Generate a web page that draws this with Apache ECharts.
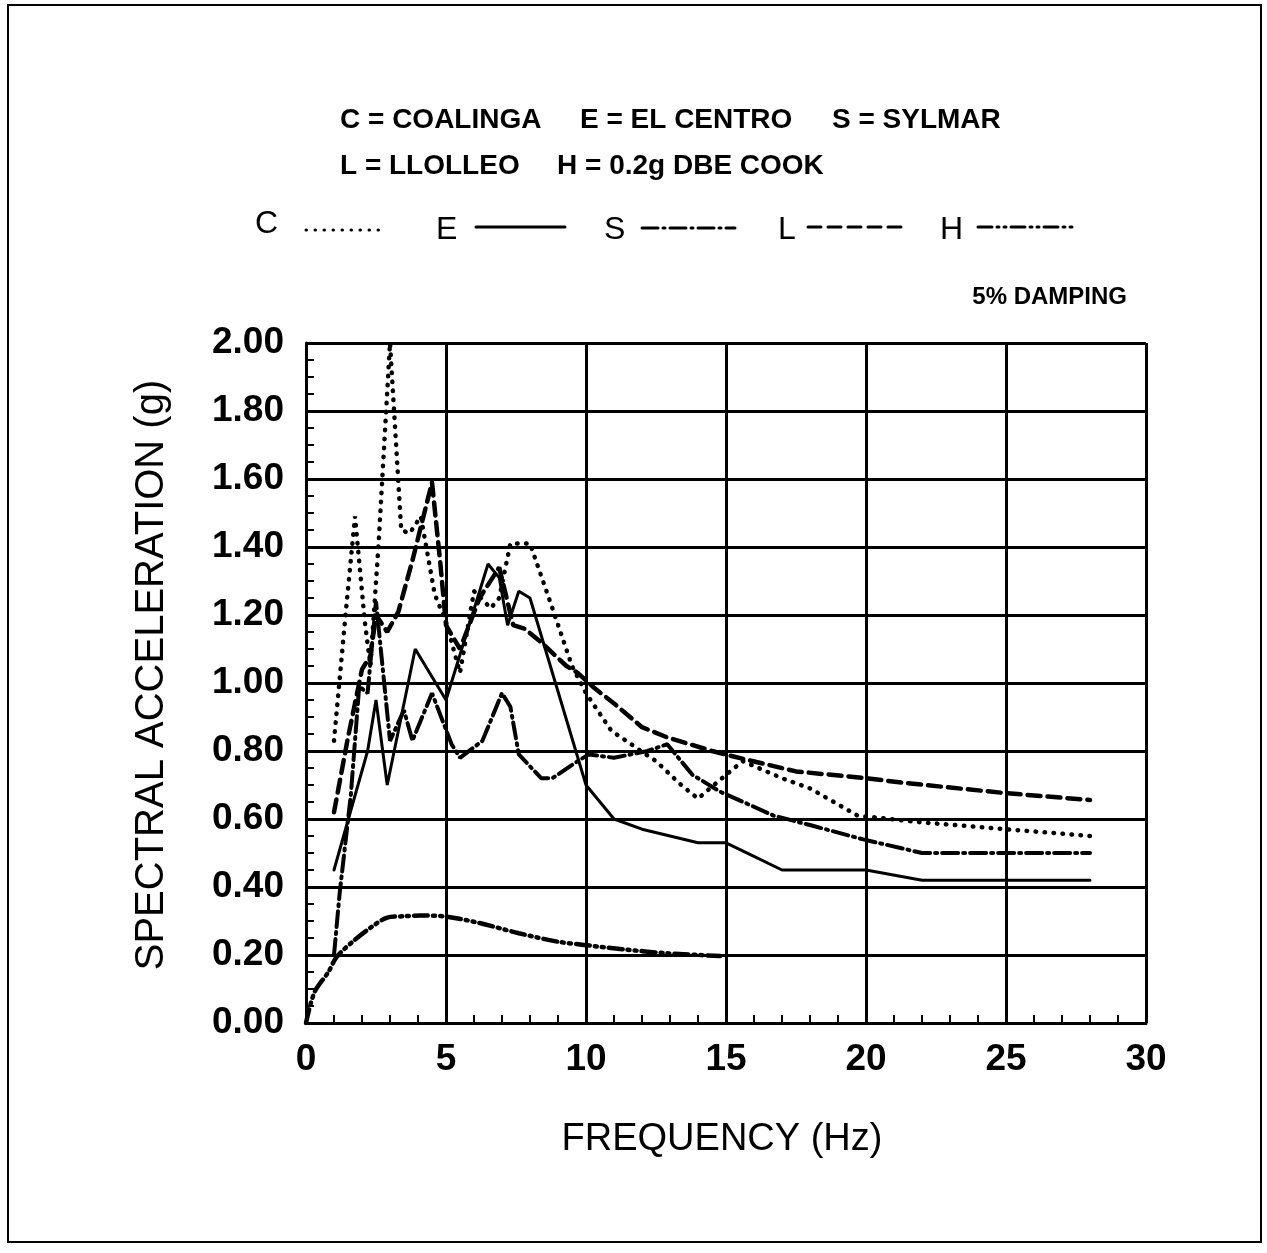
<!DOCTYPE html>
<html>
<head>
<meta charset="utf-8">
<script src="https://cdn.jsdelivr.net/npm/echarts@6/dist/echarts.min.js"></script>
<style>
  html, body { margin: 0; padding: 0; background: #fff; }
  #chart { width: 1267px; height: 1253px; }
</style>
</head>
<body>
<div id="chart"></div>
<script>
// spectra, [frequency Hz, acceleration g]
var coalinga = [[1, 0.83], [1.4, 1.19], [1.75, 1.49], [2.1, 1.18], [2.3, 1.05], [2.6, 1.42], [3, 2.0],
  [3.4, 1.45], [3.7, 1.44], [4.1, 1.49], [4.6, 1.26], [5, 1.18], [5.5, 1.03], [6, 1.27], [6.6, 1.22],
  [6.9, 1.25], [7.3, 1.41], [8, 1.41], [8.8, 1.22], [9.5, 1.05], [10, 0.97], [10.9, 0.86], [12.5, 0.77],
  [13.4, 0.70], [14, 0.66], [15, 0.73], [15.6, 0.77], [17, 0.72], [18, 0.69], [19.7, 0.61], [22, 0.59],
  [25, 0.57], [28, 0.55]];
var elCentro = [[1, 0.45], [2.2, 0.8], [2.5, 0.95], [2.9, 0.70], [3.9, 1.10], [5, 0.95], [6.5, 1.35],
  [6.9, 1.31], [7.2, 1.17], [7.6, 1.27], [8, 1.25], [10, 0.70], [11, 0.60], [12, 0.57], [14, 0.53],
  [15, 0.53], [16, 0.49], [17, 0.45], [20, 0.45], [22, 0.42], [28, 0.42]];
var sylmar = [[1, 0.2], [1.2, 0.38], [1.6, 0.67], [1.9, 0.99], [2.2, 0.97], [2.5, 1.24], [3, 0.83],
  [3.5, 0.92], [3.8, 0.83], [4.5, 0.97], [5.2, 0.82], [5.5, 0.78], [6.3, 0.83], [7, 0.97], [7.3, 0.93],
  [7.6, 0.79], [8.4, 0.72], [8.8, 0.72], [9.7, 0.77], [10.1, 0.79], [11, 0.78], [12.2, 0.80], [12.9, 0.82],
  [13.8, 0.73], [14.8, 0.68], [16.7, 0.61], [18.1, 0.58], [19.9, 0.54], [22, 0.5], [28, 0.5]];
var llolleo = [[1, 0.62], [1.5, 0.84], [2, 1.04], [2.3, 1.08], [2.5, 1.2], [2.9, 1.15], [3.3, 1.21],
  [3.8, 1.36], [4.5, 1.59], [4.8, 1.35], [5, 1.17], [5.5, 1.10], [6.2, 1.25], [6.9, 1.34], [7.4, 1.17],
  [7.8, 1.16], [8.4, 1.12], [9.3, 1.05], [9.7, 1.03], [10.3, 0.985], [11, 0.94], [12, 0.87], [12.9, 0.84],
  [14.5, 0.80], [15.7, 0.775], [17.5, 0.74], [20, 0.72], [21.5, 0.705], [25, 0.676], [28, 0.656]];
var dbeCook = [[0, 0], [0.3, 0.09], [0.8, 0.15], [1.1, 0.195], [1.75, 0.245], [2.35, 0.283], [2.9, 0.31],
  [3.5, 0.314], [4.1, 0.316], [5, 0.313], [6.2, 0.294], [7.6, 0.264], [9, 0.239], [10, 0.229],
  [11.3, 0.217], [12.9, 0.205], [14.8, 0.197]];

var dotted = [0.5, 8.5];
var dashed = [13, 7];
var dashDot = [16, 5, 2, 5];
var dashDotDot = [14, 5, 2, 5, 2, 5];

var chart = echarts.init(document.getElementById('chart'));

function lineSeries(name, data, dash, width, smooth) {
  return {
    name: name,
    type: 'line',
    data: data,
    showSymbol: false,
    smooth: smooth || false,
    animation: false,
    lineStyle: { color: '#000', width: width, type: dash, cap: 'round' }
  };
}

function legendText(str, x, y, font, align) {
  return {
    type: 'text', x: x, y: y,
    style: { text: str, font: font, fill: '#000', textAlign: align || 'left', textVerticalAlign: 'middle' }
  };
}

function legendLine(x1, x2, y, dash, width) {
  return {
    type: 'line',
    shape: { x1: x1, y1: y, x2: x2, y2: y },
    style: { stroke: '#000', lineWidth: width, lineDash: dash, lineCap: 'round' }
  };
}

var headFont = 'bold 28px "Liberation Sans"';
var keyFont = '32px "Liberation Sans"';

var option = {
  backgroundColor: '#fff',
  animation: false,
  grid: { left: 306, right: 121, top: 343, bottom: 230, containLabel: false },
  xAxis: {
    type: 'value',
    min: 0, max: 30, interval: 5,
    axisLine: { show: true, lineStyle: { color: '#000', width: 3 } },
    axisTick: { show: true, inside: true, length: 8, lineStyle: { color: '#000', width: 2 } },
    minorTick: { show: true, splitNumber: 5, length: 8, lineStyle: { color: '#000', width: 2 } },
    splitLine: { show: true, lineStyle: { color: '#000', width: 3 } },
    axisLabel: { color: '#000', fontFamily: 'Liberation Sans', fontWeight: 'bold', fontSize: 37, margin: 18 }
  },
  yAxis: {
    type: 'value',
    min: 0, max: 2, interval: 0.2,
    axisLine: { show: true, lineStyle: { color: '#000', width: 3 } },
    axisTick: { show: true, inside: true, length: 8, lineStyle: { color: '#000', width: 2 } },
    minorTick: { show: true, splitNumber: 4, length: 8, lineStyle: { color: '#000', width: 2 } },
    splitLine: { show: true, lineStyle: { color: '#000', width: 3 } },
    axisLabel: {
      color: '#000', fontFamily: 'Liberation Sans', fontWeight: 'bold', fontSize: 37, margin: 22,
      formatter: function (v) { return v.toFixed(2); }
    }
  },
  graphic: [
    { type: 'rect', shape: { x: 8, y: 5, width: 1253, height: 1237 },
      style: { fill: 'none', stroke: '#000', lineWidth: 2 } },
    legendText('C = COALINGA', 340, 120, headFont),
    legendText('E = EL CENTRO', 580, 120, headFont),
    legendText('S = SYLMAR', 832, 120, headFont),
    legendText('L = LLOLLEO', 340, 166, headFont),
    legendText('H = 0.2g DBE COOK', 557, 166, headFont),
    legendText('C', 255, 224, keyFont),
    legendLine(306, 384, 230, dotted, 3),
    legendText('E', 436, 230, keyFont),
    legendLine(476, 565, 227, [], 3),
    legendText('S', 604, 230, keyFont),
    legendLine(642, 735, 228, dashDot, 3),
    legendText('L', 778, 230, keyFont),
    legendLine(808, 905, 227, dashed, 3),
    legendText('H', 940, 230, keyFont),
    legendLine(978, 1072, 227, dashDotDot, 3),
    legendText('5% DAMPING', 1127, 297, 'bold 24px "Liberation Sans"', 'right'),
    legendText('FREQUENCY (Hz)', 722, 1140, '38px "Liberation Sans"', 'center'),
    {
      type: 'text', x: 152, y: 675, rotation: Math.PI / 2,
      style: { text: 'SPECTRAL ACCELERATION (g)', font: '40px "Liberation Sans"', fill: '#000',
        textAlign: 'center', textVerticalAlign: 'middle' }
    }
  ],
  series: [
    lineSeries('C', coalinga, dotted, 4.5),
    lineSeries('E', elCentro, 'solid', 3),
    lineSeries('S', sylmar, dashDot, 4),
    lineSeries('L', llolleo, dashed, 4.5),
    lineSeries('H', dbeCook, dashDotDot, 4.5, 0.3)
  ]
};

chart.setOption(option);
</script>
</body>
</html>
